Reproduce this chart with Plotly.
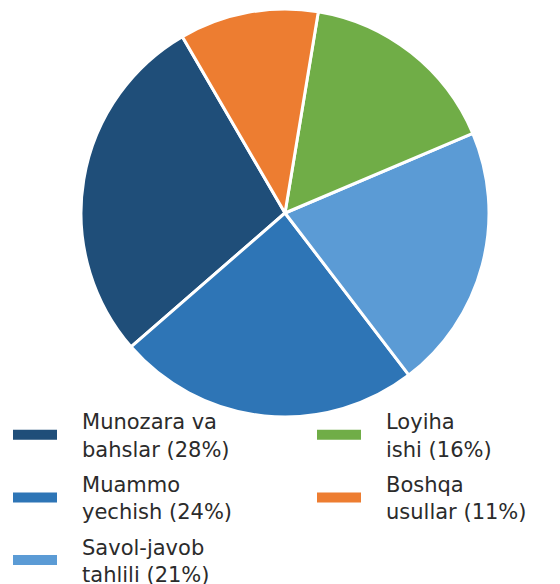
import plotly.graph_objects as go

labels = ["Munozara va<br>bahslar (28%)", "Muammo<br>yechish (24%)", "Savol-javob<br>tahlili (21%)",
          "Loyiha<br>ishi (16%)", "Boshqa<br>usullar (11%)"]
values = [28, 24, 21, 16, 11]
colors = ["#1f4e79", "#2e75b6", "#5b9bd5", "#70ad47", "#ed7d31"]
legend_column = ["legend", "legend", "legend", "legend2", "legend2"]

fig = go.Figure()
fig.add_trace(go.Pie(
    labels=labels, values=values, sort=False, direction="counterclockwise",
    rotation=-131, textinfo="none", hoverinfo="label+percent",
    marker=dict(colors=colors, line=dict(color="white", width=3)),
    domain=dict(x=[73/560, 481/560], y=[(584-409)/584, (584-1)/584]),
    showlegend=False,
))
pad = "\u00a0\u00a0\u00a0"
for i in range(len(labels)):
    name = "<br>".join(pad + part for part in labels[i].split("<br>"))
    fig.add_trace(go.Scatter(x=[None], y=[None], mode="lines", name=name,
                             legend=legend_column[i], legendgroup=str(i),
                             line=dict(color=colors[i], width=10)))

legend_common = dict(orientation="v", yanchor="top", xanchor="left", itemwidth=44,
                     bgcolor="rgba(0,0,0,0)", font=dict(size=21, color="#2b2b2b"),
                     traceorder="grouped", tracegroupgap=5)
fig.update_layout(
    width=560, height=584, margin=dict(l=0, r=0, t=0, b=0, autoexpand=False),
    paper_bgcolor="white", plot_bgcolor="white",
    xaxis=dict(visible=False), yaxis=dict(visible=False),
    font=dict(family="DejaVu Sans", size=21, color="#2b2b2b"),
    legend=dict(x=0.0, y=(584-393)/584, **legend_common),
    legend2=dict(x=(317-13)/560, y=(584-393)/584, **legend_common),
)
fig.write_html("out.html")
